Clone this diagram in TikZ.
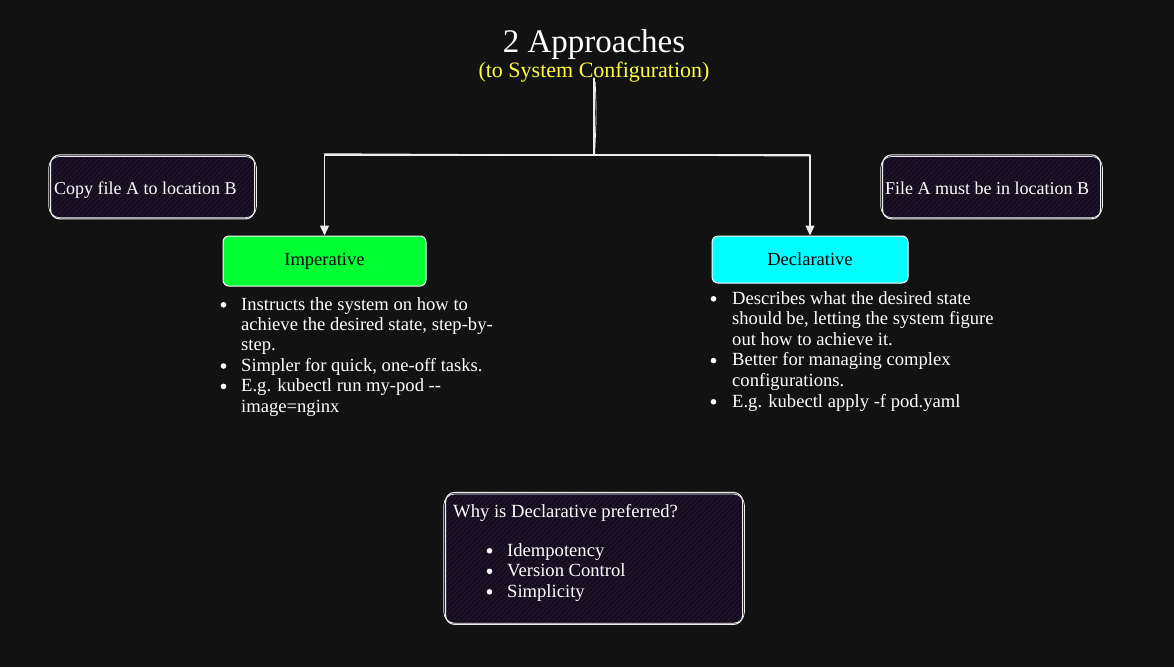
\documentclass[tikz,border=0pt]{standalone}
\usepackage{fontspec}
\setmainfont{Liberation Serif}
\usetikzlibrary{arrows.meta,calc}

\definecolor{bg}{HTML}{121212}
\definecolor{panelfill}{HTML}{140C1D}
\definecolor{panelhatch}{HTML}{231834}
\definecolor{impgreen}{HTML}{00FF33}
\definecolor{deccyan}{HTML}{00FFFF}
\definecolor{subyellow}{HTML}{FFFF3A}
\definecolor{ink}{HTML}{EDEDED}

\tikzset{
  conn/.style={draw=ink, line width=1.1pt, line cap=round, line join=round},
  tipped/.style={conn, -{Triangle[width=9pt,length=10pt]}},
  geom/.style={inner sep=0pt, outer sep=0pt},
  approach/.style={draw=white, line width=1pt, rounded corners=6pt, text=black,
    font=\fontsize{18.5}{22}\selectfont},
  bodytext/.style={text=white, inner sep=0pt, anchor=base west},
  listdot/.style={circle, fill=white, inner sep=0pt, minimum size=5.6pt},
}

% lines of text hung from the baseline of their first line
\newenvironment{hanglines}{\begin{tabular}[t]{@{}l@{}}}{\end{tabular}}

% hatched dark panel with a doubled, hand-drawn looking outline
\newcommand\hatchpanel[1]{%
  \fill[panelfill, rounded corners=9pt] (#1.south west) rectangle (#1.north east);
  \begin{scope}
    \clip[rounded corners=9pt] (#1.south west) rectangle (#1.north east);
    \foreach \k in {-160,-155,...,320}
      \draw[panelhatch, line width=0.8pt] ($(#1.south west)+(\k,4)$) -- ++(160,-160);
  \end{scope}
  \draw[ink, line width=1.1pt, rounded corners=9pt]
    ($(#1.south west)+(0.6,0.4)$) rectangle ($(#1.north east)+(-0.4,-0.6)$);
  \draw[ink!80, line width=0.7pt, rounded corners=11pt]
    ($(#1.south west)+(-1.2,-0.8)$) rectangle ($(#1.north east)+(1.4,1.0)$);
}

\begin{document}
\begin{tikzpicture}[x=1pt, y=-1pt]
  \fill[bg] (0,0) rectangle (1174,667);
  \useasboundingbox (0,0) rectangle (1174,667);

  % heading
  \node[text=white, inner sep=0pt, anchor=base, font=\fontsize{33}{36}\selectfont]
    (title) at (594,52) {2 Approaches};
  \node[text=subyellow, inner sep=0pt, anchor=base, font=\fontsize{22}{24}\selectfont]
    (subtitle) at (594,77) {(to System Configuration)};

  % example panels
  \node[geom, minimum width=205pt, minimum height=63pt] (copy) at (152.5,187) {};
  \node[geom, minimum width=219pt, minimum height=63pt] (must) at (991.5,187) {};
  \node[geom, minimum width=298pt, minimum height=131pt] (why) at (594,558.5) {};
  \hatchpanel{copy}
  \hatchpanel{must}
  \hatchpanel{why}

  \node[bodytext, font=\fontsize{18}{21}\selectfont] (copytext) at (54,194)
    {Copy file A to location B};
  \node[bodytext, font=\fontsize{18}{21}\selectfont] (musttext) at (885,194)
    {File A must be in location B};

  % the two approaches
  \node[approach, fill=impgreen, minimum width=203pt, minimum height=50pt]
    (imp) at (324.5,261) {Imperative};
  \node[approach, fill=deccyan, minimum width=196pt, minimum height=47pt]
    (dec) at (810,259.5) {Declarative};

  % connectors
  \coordinate (hub) at (594,155);
  \coordinate (top) at (594,78);
  \draw[conn] (top) -- (hub);
  \draw[conn, ink!70, line width=0.7pt] (595.2,82) .. controls (596.5,115) .. (594.6,154);
  \draw[tipped] (hub) -| (imp.north);
  \draw[tipped] (hub) -| (dec.north);
  \draw[conn, ink!60, line width=0.6pt] (hub) -- (324,153.6);
  \draw[conn, ink!60, line width=0.6pt] (hub) -- (810,156.2);

  % bullet lists
  \node[bodytext, font=\fontsize{18.6}{20.4}\selectfont] (implist) at (241,310) {%
    \begin{hanglines}
    Instructs the system on how to\\
    achieve the desired state, step-by-\\
    step.\\
    Simpler for quick, one-off tasks.\\
    E.g. kubectl run my-pod -{}-\\
    image=nginx
    \end{hanglines}};
  \foreach \b/\y in {1/310, 2/371.2, 3/391.6}
    \node[listdot] (impdot\b) at (223.5,\y-5.2) {};

  \node[bodytext, font=\fontsize{18.6}{20.6}\selectfont] (declist) at (732,304) {%
    \begin{hanglines}
    Describes what the desired state\\
    should be, letting the system figure\\
    out how to achieve it.\\
    Better for managing complex\\
    configurations.\\
    E.g. kubectl apply -f pod.yaml
    \end{hanglines}};
  \foreach \b/\y in {1/304, 2/365.8, 3/407.0}
    \node[listdot] (decdot\b) at (713.5,\y-5.2) {};

  \node[bodytext, font=\fontsize{18.6}{21}\selectfont] (whytitle) at (453,517)
    {Why is Declarative preferred?};
  \node[bodytext, font=\fontsize{18.6}{20.5}\selectfont] (whylist) at (507,556) {%
    \begin{hanglines}
    Idempotency\\
    Version Control\\
    Simplicity
    \end{hanglines}};
  \foreach \b/\y in {1/556, 2/576.5, 3/597}
    \node[listdot] (whydot\b) at (489.5,\y-5.2) {};
\end{tikzpicture}
\end{document}
